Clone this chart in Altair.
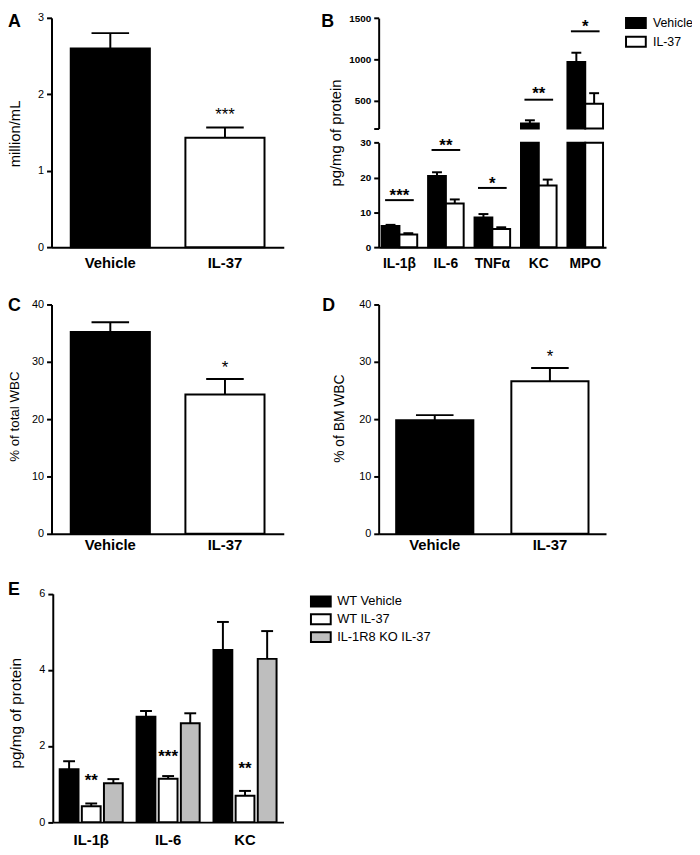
import altair as alt
import pandas as pd

FONT = "Liberation Sans"
W, H = 692, 845

# ---------------- data ----------------
# Panel A
a_groups = ["Vehicle", "IL-37"]
a_mean = [2.60, 1.43]
a_upper = [2.80, 1.565]
a_star = ["", "***"]
a_star_y = [0, 1.77]

# Panel B (broken y axis)
b_cytokines = ["IL-1β", "IL-6", "TNFα", "KC", "MPO"]
b_series = ["Vehicle", "IL-37"]
b_vehicle_mean = [6.1, 20.4, 8.5, 221, 968]
b_vehicle_upper = [6.4, 21.5, 9.5, 260, 1080]
b_il37_mean = [3.6, 12.5, 5.2, 17.7, 460]
b_il37_upper = [4.0, 13.7, 5.7, 19.4, 589]
b_sig = ["***", "**", "*", "**", "*"]
b_sig_line = [13.5, 27.9, 17.0, 510, 1340]
b_sig_star = [15.6, 30.0, 18.9, 610, 1430]
b_low_domain = [0, 30]
b_high_domain = [160, 1500]
b_low_ticks = [0, 10, 20, 30]
b_high_ticks = [160, 500, 1000, 1500]

# Panel C
c_groups = ["Vehicle", "IL-37"]
c_mean = [35.2, 24.3]
c_upper = [36.9, 27.0]
c_star = ["", "*"]
c_star_y = [0, 29.5]

# Panel D
d_groups = ["Vehicle", "IL-37"]
d_mean = [19.8, 26.6]
d_upper = [20.7, 28.9]
d_star = ["", "*"]
d_star_y = [0, 31.4]

# Panel E
e_cytokines = ["IL-1β", "IL-6", "KC"]
e_series = ["WT Vehicle", "WT IL-37", "IL-1R8 KO IL-37"]
e_wt_vehicle_mean = [1.39, 2.77, 4.52]
e_wt_vehicle_upper = [1.60, 2.92, 5.26]
e_wt_il37_mean = [0.42, 1.14, 0.69]
e_wt_il37_upper = [0.49, 1.21, 0.82]
e_ko_il37_mean = [1.02, 2.60, 4.29]
e_ko_il37_upper = [1.13, 2.86, 5.02]
e_sig = ["**", "***", "**"]
e_sig_y = [1.17, 1.79, 1.47]

BW = ["black", "white"]
E_COLORS = ["black", "white", "#bebebe"]
RECT = "M-2,-1H2V1H-2Z"
STAR_DY = 3


# ---------------- helpers ----------------
def ax_left(x0, ticks, title, tx, ty, tsize, lsize, bold=False, expr=None):
    kw = dict(orient="left", offset=-x0, values=ticks, format="d",
              labelFontSize=lsize, labelFontWeight="bold" if bold else "normal",
              titleFontSize=tsize, titleAngle=270, titleAlign="center",
              titleBaseline="alphabetic", titleX=tx, titleY=ty)
    kw["title"] = title
    if expr:
        kw["labelExpr"] = expr
    return alt.Axis(**kw)


def ax_bottom(y0, lsize, pad):
    return alt.Axis(orient="bottom", offset=y0 - H, title=None, ticks=False,
                    labelAngle=0, labelFontSize=lsize, labelFontWeight="bold",
                    labelPadding=pad)


def simple_panel(groups, means, uppers, stars, star_ys, x_range, pin, pout,
                 y_range, y_domain, yaxis, xaxis, cap):
    df = pd.DataFrame({"group": groups, "mean": means, "upper": uppers,
                       "star": stars, "star_y": star_ys})
    xs = alt.Scale(domain=groups, range=x_range, paddingInner=pin, paddingOuter=pout)
    ys = alt.Scale(domain=y_domain, range=y_range, nice=False)
    base = alt.Chart(df)
    bars = base.mark_bar(stroke="black", strokeWidth=2).encode(
        x=alt.X("group:N", sort=groups, scale=xs, axis=xaxis),
        y=alt.Y("mean:Q", scale=ys, axis=yaxis),
        color=alt.Color("group:N", scale=alt.Scale(domain=groups, range=BW), legend=None),
    )
    err = base.mark_rule(color="black", strokeWidth=2).encode(
        x=alt.X("group:N", sort=groups, scale=xs),
        y=alt.Y("mean:Q", scale=ys), y2="upper:Q")
    caps = base.mark_tick(color="black", thickness=2, size=cap, opacity=1).encode(
        x=alt.X("group:N", sort=groups, scale=xs),
        y=alt.Y("upper:Q", scale=ys))
    st = base.transform_filter("datum.star != ''").mark_text(
        font=FONT, fontSize=17, color="black", baseline="middle", dy=STAR_DY).encode(
        x=alt.X("group:N", sort=groups, scale=xs),
        y=alt.Y("star_y:Q", scale=ys), text="star:N")
    return alt.layer(bars, err, caps, st)


# ---------------- panel A ----------------
pA = simple_panel(a_groups, a_mean, a_upper, a_star, a_star_y, [44, 279], 0.31, 0.168,
                  [237, 5], [0, 3],
                  ax_left(44, [0, 1, 2, 3], "million/mL", -32, 122, 15, 11),
                  ax_bottom(237, 15, 9), 38)

# ---------------- panel C ----------------
pC = simple_panel(c_groups, c_mean, c_upper, c_star, c_star_y, [44, 279], 0.31, 0.168,
                  [527, 295], [0, 40],
                  ax_left(44, [0, 10, 20, 30, 40], "% of total WBC", -33, 408, 13.5, 11),
                  ax_bottom(527, 15, 4), 38)

# ---------------- panel D ----------------
pD = simple_panel(d_groups, d_mean, d_upper, d_star, d_star_y, [375, 605], 0.33, 0.152,
                  [527, 295], [0, 40],
                  ax_left(375, [0, 10, 20, 30, 40], "% of BM WBC", -36, 410, 14, 11),
                  ax_bottom(527, 15, 4), 38)

# ---------------- panel B ----------------
rows = []
for i, c in enumerate(b_cytokines):
    rows.append(dict(cyt=c, series="Vehicle", mean=b_vehicle_mean[i], upper=b_vehicle_upper[i]))
    rows.append(dict(cyt=c, series="IL-37", mean=b_il37_mean[i], upper=b_il37_upper[i]))
dfB = pd.DataFrame(rows)
dfBsig = pd.DataFrame({"cyt": b_cytokines, "sig": b_sig, "line": b_sig_line, "star": b_sig_star})

BX_RANGE = [375, 605]


def b_segment(domain, y_range, yaxis, xaxis, low, legend):
    xs = alt.Scale(domain=b_cytokines, range=BX_RANGE, paddingInner=0.234, paddingOuter=0.064)
    ys = alt.Scale(domain=domain, range=y_range, nice=False, clamp=True)
    xo = alt.XOffset("series:N", sort=b_series,
                     scale=alt.Scale(domain=b_series, paddingInner=0, paddingOuter=0))
    lo, hi = domain
    if low:
        bar_filter = "datum.mean >= 0"
        err_filter = f"datum.upper <= {hi}"
        sig_filter = f"datum.line <= {hi}"
    else:
        bar_filter = f"datum.mean > {lo}"
        err_filter = f"datum.mean > {lo}"
        sig_filter = f"datum.line > {lo}"
    base = alt.Chart(dfB)
    bars = base.transform_filter(bar_filter).mark_bar(stroke="black", strokeWidth=2).encode(
        x=alt.X("cyt:N", sort=b_cytokines, scale=xs, axis=xaxis),
        xOffset=xo,
        y=alt.Y("mean:Q", scale=ys, axis=yaxis),
        color=alt.Color("series:N", sort=b_series,
                        scale=alt.Scale(domain=b_series, range=BW), legend=legend),
    )
    err = base.transform_filter(err_filter).mark_rule(color="black", strokeWidth=2).encode(
        x=alt.X("cyt:N", sort=b_cytokines, scale=xs), xOffset=xo,
        y=alt.Y("mean:Q", scale=ys), y2="upper:Q")
    caps = base.transform_filter(err_filter).mark_tick(
        color="black", thickness=2, size=10, opacity=1).encode(
        x=alt.X("cyt:N", sort=b_cytokines, scale=xs), xOffset=xo,
        y=alt.Y("upper:Q", scale=ys))
    sbase = alt.Chart(dfBsig).transform_filter(sig_filter)
    lines = sbase.mark_tick(color="black", thickness=2, size=29, opacity=1).encode(
        x=alt.X("cyt:N", sort=b_cytokines, scale=xs),
        y=alt.Y("line:Q", scale=ys))
    st = sbase.mark_text(font=FONT, fontSize=17, fontWeight="bold", color="black",
                         baseline="middle", dy=STAR_DY).encode(
        x=alt.X("cyt:N", sort=b_cytokines, scale=xs),
        y=alt.Y("star:Q", scale=ys), text="sig:N")
    return alt.layer(bars, err, caps, lines, st)


legB = alt.Legend(orient="none", legendX=629, legendY=4, title=None,
                  symbolType=RECT, symbolSize=100,
                  symbolStrokeColor="black", symbolStrokeWidth=2,
                  labelFont=FONT, labelFontSize=12.5, labelColor="black",
                  labelOffset=11, rowPadding=0, padding=0, direction="vertical")

pBu = b_segment(b_high_domain, [117, 5.3],
                ax_left(375, b_high_ticks, None, -39, 120, 15, 10, bold=True,
                        expr="datum.value < 200 ? '' : datum.label"),
                None, False, None)
pBl = b_segment(b_low_domain, [237, 131.3],
                ax_left(375, b_low_ticks, "pg/mg of protein", -39, 121, 15, 10, bold=True),
                ax_bottom(237, 14, 10), True, legB)

# ---------------- panel E ----------------
rows = []
for i, c in enumerate(e_cytokines):
    rows.append(dict(cyt=c, series=e_series[0], mean=e_wt_vehicle_mean[i], upper=e_wt_vehicle_upper[i]))
    rows.append(dict(cyt=c, series=e_series[1], mean=e_wt_il37_mean[i], upper=e_wt_il37_upper[i]))
    rows.append(dict(cyt=c, series=e_series[2], mean=e_ko_il37_mean[i], upper=e_ko_il37_upper[i]))
dfE = pd.DataFrame(rows)
dfEsig = pd.DataFrame({"cyt": e_cytokines, "series": [e_series[1]] * 3, "sig": e_sig, "y": e_sig_y})

exs = alt.Scale(domain=e_cytokines, range=[45.3, 278.7], paddingInner=0.18, paddingOuter=0.09)
eys = alt.Scale(domain=[0, 6], range=[818.7, 587.7], nice=False)
exo = alt.XOffset("series:N", sort=e_series,
                  scale=alt.Scale(domain=e_series, paddingInner=0.15, paddingOuter=0))
legE = alt.Legend(orient="none", legendX=310, legendY=589, title=None,
                  symbolType=RECT, symbolSize=100,
                  symbolStrokeColor="black", symbolStrokeWidth=2,
                  labelFont=FONT, labelFontSize=13, labelColor="black",
                  labelOffset=10, rowPadding=-1, padding=0, direction="vertical")
eb = alt.Chart(dfE)
e_bars = eb.mark_bar(stroke="black", strokeWidth=2).encode(
    x=alt.X("cyt:N", sort=e_cytokines, scale=exs, axis=ax_bottom(818.7, 15, 10.5)),
    xOffset=exo,
    y=alt.Y("mean:Q", scale=eys, axis=ax_left(45.3, [0, 2, 4, 6], "pg/mg of protein",
                                             -33, 708, 15.5, 11)),
    color=alt.Color("series:N", sort=e_series,
                    scale=alt.Scale(domain=e_series, range=E_COLORS), legend=legE),
)
e_err = eb.mark_rule(color="black", strokeWidth=2).encode(
    x=alt.X("cyt:N", sort=e_cytokines, scale=exs), xOffset=exo,
    y=alt.Y("mean:Q", scale=eys), y2="upper:Q")
e_caps = eb.mark_tick(color="black", thickness=2, size=12, opacity=1).encode(
    x=alt.X("cyt:N", sort=e_cytokines, scale=exs), xOffset=exo,
    y=alt.Y("upper:Q", scale=eys))
e_st = alt.Chart(dfEsig).mark_text(font=FONT, fontSize=17, fontWeight="bold", color="black",
                                   baseline="middle", dy=STAR_DY).encode(
    x=alt.X("cyt:N", sort=e_cytokines, scale=exs), xOffset=exo,
    y=alt.Y("y:Q", scale=eys), text="sig:N")
pE = alt.layer(e_bars, e_err, e_caps, e_st)


# ---------------- panel letters ----------------
def letter(t, x, y):
    return alt.Chart(pd.DataFrame({"t": [t]})).mark_text(
        font=FONT, fontSize=18, fontWeight="bold", align="left",
        baseline="alphabetic", color="black").encode(
        text="t:N", x=alt.value(x), y=alt.value(y))


letters = [letter("A", 0, 14), letter("B", 317, 14), letter("C", 0, 302),
           letter("D", 318, 302), letter("E", 0, 589)]

chart = alt.layer(pA, pBu, pBl, pC, pD, pE, *letters).resolve_scale(
    x="independent", y="independent", color="independent", xOffset="independent"
).resolve_axis(x="independent", y="independent").resolve_legend(
    color="independent"
).properties(
    width=W, height=H, padding=0, autosize=alt.AutoSizeParams(type="none")
).configure_view(stroke=None).configure_axis(
    grid=False, domainColor="black", domainWidth=2, tickColor="black", tickWidth=2,
    tickSize=5, labelFont=FONT, labelColor="black", labelPadding=3, labelOverlap=False,
    titleFont=FONT, titleColor="black", titleFontWeight="normal"
)

chart.save("out.html", embed_options={"renderer": "svg", "actions": False})
